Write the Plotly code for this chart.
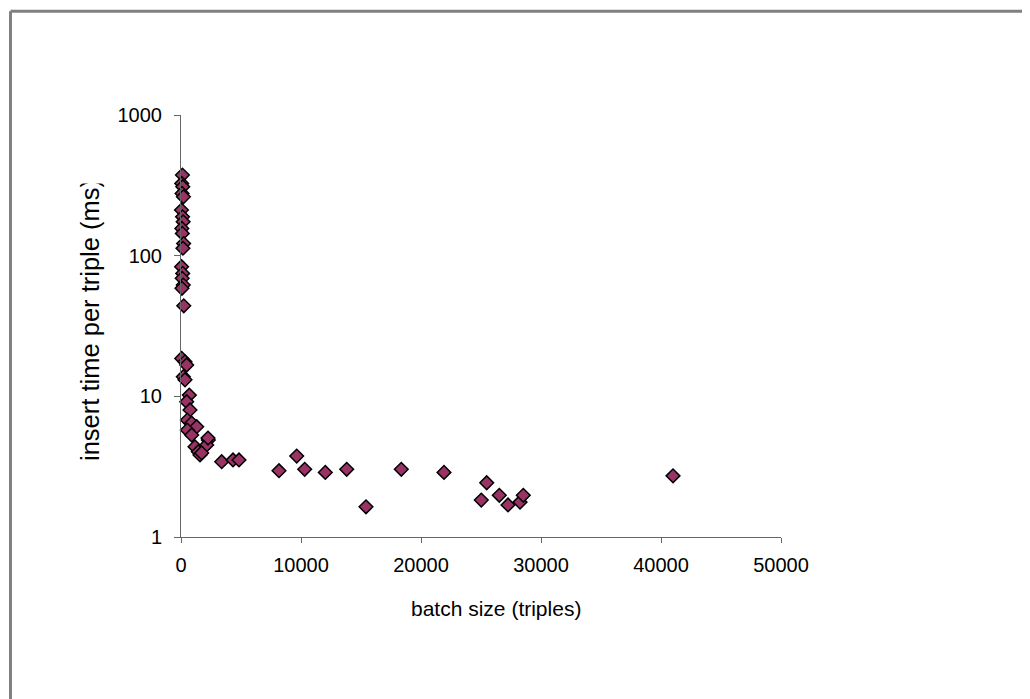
import plotly.graph_objects as go

# batch size (triples)
batch_size = [
    120, 60, 150, 90, 200, 40, 130, 180, 70, 110, 220, 160, 50, 140, 100, 190, 80, 230,
    58, 333, 475, 192, 333, 692, 475, 750, 525, 892, 1308, 525, 892, 2275, 2142, 1167, 1442, 1583,
    2250, 1725, 3392, 4333, 4833,
    8167, 9642, 10308, 12025, 13808, 15417, 18358, 21917,
    25475, 25025, 26525, 27250, 28250, 28525, 41000,
]
# insert time per triple (ms)
insert_time = [
    374, 326, 309, 277, 262, 211, 189, 174, 156, 144, 122, 113, 83.4, 74.8, 69, 61.8, 58.6, 44,
    18.6, 17.6, 16.7, 13.8, 13.1, 10.2, 9.15, 8.0, 6.78, 6.46, 6.08, 5.76, 5.31, 4.89, 4.51, 4.38, 4.04, 3.83,
    5.05, 3.96, 3.43, 3.53, 3.53,
    2.96, 3.76, 3.03, 2.88, 3.03, 1.64, 3.03, 2.88,
    2.43, 1.83, 1.98, 1.69, 1.77, 1.98, 2.72,
]

x_ticks = [0, 10000, 20000, 30000, 40000, 50000]
y_ticks = [1, 10, 100, 1000]

FONT = "Liberation Sans, Arial, sans-serif"
OFF = 8  # page body margin
W, H = 1030 - OFF, 699 - OFF
L, T = 181 - OFF, 115 - OFF
PR, PB = 781 - OFF, 537 - OFF
R, B = W - PR, H - PB
PW, PH = PR - L, PB - T

def px_x(p):
    return (p - OFF - L) / PW

def px_y(p):
    return (PB - (p - OFF)) / PH

fig = go.Figure()
fig.add_trace(go.Scatter(
    x=batch_size, y=insert_time, mode="markers",
    marker=dict(symbol="diamond", size=10.5, color="#993366",
                line=dict(color="#000000", width=1.5)),
    cliponaxis=False, showlegend=False,
))

fig.update_layout(
    width=W, height=H,
    margin=dict(l=L, r=R, t=T, b=B),
    paper_bgcolor="white", plot_bgcolor="white",
    font=dict(family=FONT, size=20, color="black"),
    xaxis=dict(
        range=[0, 50000], tickvals=x_ticks, ticktext=[str(v) for v in x_ticks],
        showgrid=False, zeroline=False, showline=True, linecolor="#666666", linewidth=1,
        ticks="outside", ticklen=5, tickcolor="#666666", tickfont=dict(size=20),
        ticklabelstandoff=5,
    ),
    yaxis=dict(
        type="log", range=[0, 3], tickvals=y_ticks, ticktext=[str(v) for v in y_ticks],
        showgrid=False, zeroline=False, showline=True, linecolor="#666666", linewidth=1,
        ticks="outside", ticklen=6, tickcolor="#666666", tickfont=dict(size=20),
        ticklabelstandoff=8,
    ),
    annotations=[
        dict(text="batch size (triples)", xref="paper", yref="paper",
             x=px_x(496), y=px_y(608), xanchor="center", yanchor="middle",
             showarrow=False, font=dict(size=21)),
        dict(text="insert time per triple (ms)", xref="paper", yref="paper",
             x=px_x(90), y=px_y(463), xanchor="center", yanchor="bottom",
             textangle=-90, showarrow=False, font=dict(size=25.5)),
        # white band reproducing the clipped top of the y-axis title
        dict(text=" ", xref="paper", yref="paper",
             x=px_x(90), y=px_y(184), xanchor="center", yanchor="bottom",
             width=34, height=40, bgcolor="white", showarrow=False),
    ],
    shapes=[
        dict(type="line", xref="paper", yref="paper",
             x0=px_x(10.5), x1=px_x(1045), y0=px_y(11.3), y1=px_y(11.3),
             line=dict(color="#808080", width=3)),
        dict(type="line", xref="paper", yref="paper",
             x0=px_x(10.5), x1=px_x(10.5), y0=px_y(11.3), y1=px_y(715),
             line=dict(color="#808080", width=3)),
    ],
)

fig.write_html("out.html")
